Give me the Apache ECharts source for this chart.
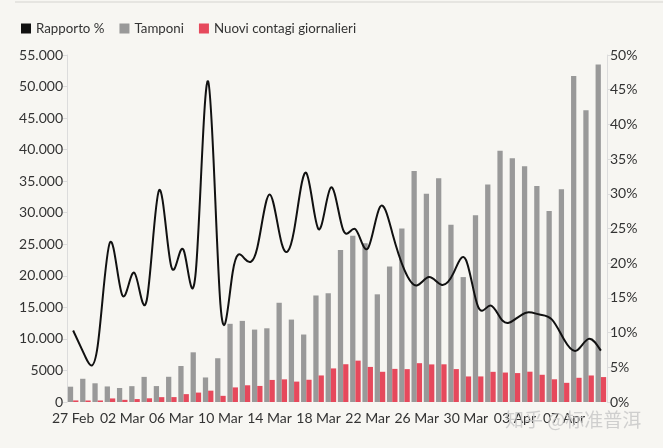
<!DOCTYPE html>
<html>
<head>
<meta charset="utf-8">
<script src="https://cdn.jsdelivr.net/npm/echarts@6/dist/echarts.min.js"></script>
<style>
html,body{margin:0;padding:0;background:#f7f6f2;}
#chart{width:663px;height:448px;}
</style>
</head>
<body>
<div id="chart"></div>
<script>
const categories = ['27 Feb','28 Feb','29 Feb','01 Mar','02 Mar','03 Mar','04 Mar','05 Mar','06 Mar','07 Mar','08 Mar','09 Mar','10 Mar','11 Mar','12 Mar','13 Mar','14 Mar','15 Mar','16 Mar','17 Mar','18 Mar','19 Mar','20 Mar','21 Mar','22 Mar','23 Mar','24 Mar','25 Mar','26 Mar','27 Mar','28 Mar','29 Mar','30 Mar','31 Mar','01 Apr','02 Apr','03 Apr','04 Apr','05 Apr','06 Apr','07 Apr','08 Apr','09 Apr','10 Apr'];

const tamponi = [2427,3681,2966,2466,2218,2511,3981,2525,3997,5703,7875,3889,6935,12393,12857,11477,11682,15729,13063,10695,16884,17236,24109,26336,25180,17066,21496,27481,36615,33019,35447,28100,19800,29609,34455,39809,38617,37375,34237,30271,33713,51680,46244,53495];

const nuoviContagi = [250,238,240,566,342,466,587,769,778,1247,1492,1797,977,2313,2651,2547,3497,3590,3233,3526,4207,5322,5986,6557,5560,4789,5249,5210,6153,5959,5974,5217,4050,4053,4782,4668,4585,4805,4316,3599,3039,3836,4204,3951];

const rapporto = [10.3,6.5,8.1,23.0,15.4,18.6,14.7,30.5,19.5,21.9,18.9,46.2,14.1,18.7,20.6,22.2,29.9,22.8,24.7,33.0,24.9,30.9,24.8,24.9,22.1,28.1,24.4,19.0,16.8,18.0,16.9,18.6,20.5,13.7,13.9,11.7,11.9,12.9,12.6,11.9,9.0,7.4,9.1,7.4];

const leftTicks = {min: 0, max: 55000, interval: 5000};
const rightTicks = {min: 0, max: 50, interval: 5};

function fmtThousands(v) {
  if (v < 10000) return String(v);
  const s = String(v);
  return s.replace(/\B(?=(\d{3})+(?!\d))/g, '.');
}

// natural cubic spline through pixel points -> SVG path
function naturalPath(pts) {
  const n = pts.length;
  if (n < 2) return '';
  const xs = pts.map(p => p[0]), ys = pts.map(p => p[1]);
  function ctrl(v) {
    const m = n - 1;
    const a = new Array(m), b = new Array(m), r = new Array(m);
    a[0] = 0; b[0] = 2; r[0] = v[0] + 2 * v[1];
    for (let i = 1; i < m - 1; i++) { a[i] = 1; b[i] = 4; r[i] = 4 * v[i] + 2 * v[i + 1]; }
    a[m - 1] = 2; b[m - 1] = 7; r[m - 1] = 8 * v[m - 1] + v[m];
    for (let i = 1; i < m; i++) { const w = a[i] / b[i - 1]; b[i] -= w; r[i] -= w * r[i - 1]; }
    const A = new Array(m), B = new Array(m);
    A[m - 1] = r[m - 1] / b[m - 1];
    for (let i = m - 2; i >= 0; i--) A[i] = (r[i] - A[i + 1]) / b[i];
    B[m - 1] = (v[m] + A[m - 1]) / 2;
    for (let i = 0; i < m - 1; i++) B[i] = 2 * v[i + 1] - A[i + 1];
    return [A, B];
  }
  const cx = ctrl(xs), cy = ctrl(ys);
  let d = 'M' + xs[0] + ' ' + ys[0];
  for (let i = 0; i < n - 1; i++) {
    d += ' C' + cx[0][i] + ' ' + cy[0][i] + ' ' + cx[1][i] + ' ' + cy[1][i] + ' ' + xs[i + 1] + ' ' + ys[i + 1];
  }
  return d;
}

const chart = echarts.init(document.getElementById('chart'), null, {renderer: 'canvas'});
const FONT = 'Lato';
const TXT = '#333';

chart.setOption({
  backgroundColor: '#f7f6f2',
  animation: false,
  textStyle: {fontFamily: FONT},
  graphic: [
    {type: 'line', shape: {x1: 15, y1: 2, x2: 663, y2: 2}, style: {stroke: '#e0dfdb', lineWidth: 1.5}, silent: true},
    {type: 'text', left: 505, top: 410, z: 100, silent: true,
     style: {text: '知乎 @标准普洱', fill: 'rgba(200,200,200,0.85)', font: '19px "Noto Sans CJK SC"'}}
  ],
  legend: {
    left: 16, top: 17,
    itemWidth: 10, itemHeight: 10, itemGap: 15,
    icon: 'rect',
    textStyle: {fontSize: 13.3, color: TXT, fontFamily: FONT},
    data: ['Rapporto %', 'Tamponi', 'Nuovi contagi giornalieri']
  },
  grid: {left: 67, right: 56, top: 55, bottom: 46},
  xAxis: {
    type: 'category',
    data: categories,
    boundaryGap: true,
    axisLine: {show: false},
    axisTick: {show: false},
    axisLabel: {interval: 3, fontSize: 14, color: TXT, margin: 9, fontFamily: FONT}
  },
  yAxis: [
    {
      type: 'value', min: leftTicks.min, max: leftTicks.max, interval: leftTicks.interval,
      axisLine: {show: true, lineStyle: {color: '#dcdcdc'}},
      axisTick: {show: true, length: 5, lineStyle: {color: '#dcdcdc'}},
      splitLine: {show: false},
      axisLabel: {fontSize: 14, color: TXT, margin: 4, fontFamily: FONT, formatter: fmtThousands}
    },
    {
      type: 'value', min: rightTicks.min, max: rightTicks.max, interval: rightTicks.interval,
      position: 'right',
      axisLine: {show: true, lineStyle: {color: '#dcdcdc'}},
      axisTick: {show: true, length: 5, lineStyle: {color: '#dcdcdc'}},
      splitLine: {show: false},
      axisLabel: {fontSize: 14, color: TXT, margin: 3, fontFamily: FONT, formatter: '{value}%'}
    }
  ],
  series: [
    {
      name: 'Rapporto %', type: 'custom', yAxisIndex: 1, z: 10,
      itemStyle: {color: '#111111'},
      data: rapporto.map((v, i) => [i, v]),
      encode: {x: 0, y: 1},
      renderItem: function (params, api) {
        if (params.dataIndex !== 0) return null;
        const pts = rapporto.map((v, i) => api.coord([i, v]));
        return {
          type: 'path',
          shape: {pathData: naturalPath(pts)},
          style: {fill: 'none', stroke: '#111111', lineWidth: 2}
        };
      }
    },
    {
      name: 'Tamponi', type: 'bar', yAxisIndex: 0,
      data: tamponi,
      itemStyle: {color: '#999999'},
      barGap: '0%', barCategoryGap: '14%'
    },
    {
      name: 'Nuovi contagi giornalieri', type: 'bar', yAxisIndex: 0,
      data: nuoviContagi,
      itemStyle: {color: '#e6495c'},
      barGap: '0%', barCategoryGap: '14%'
    }
  ]
});
</script>
</body>
</html>
